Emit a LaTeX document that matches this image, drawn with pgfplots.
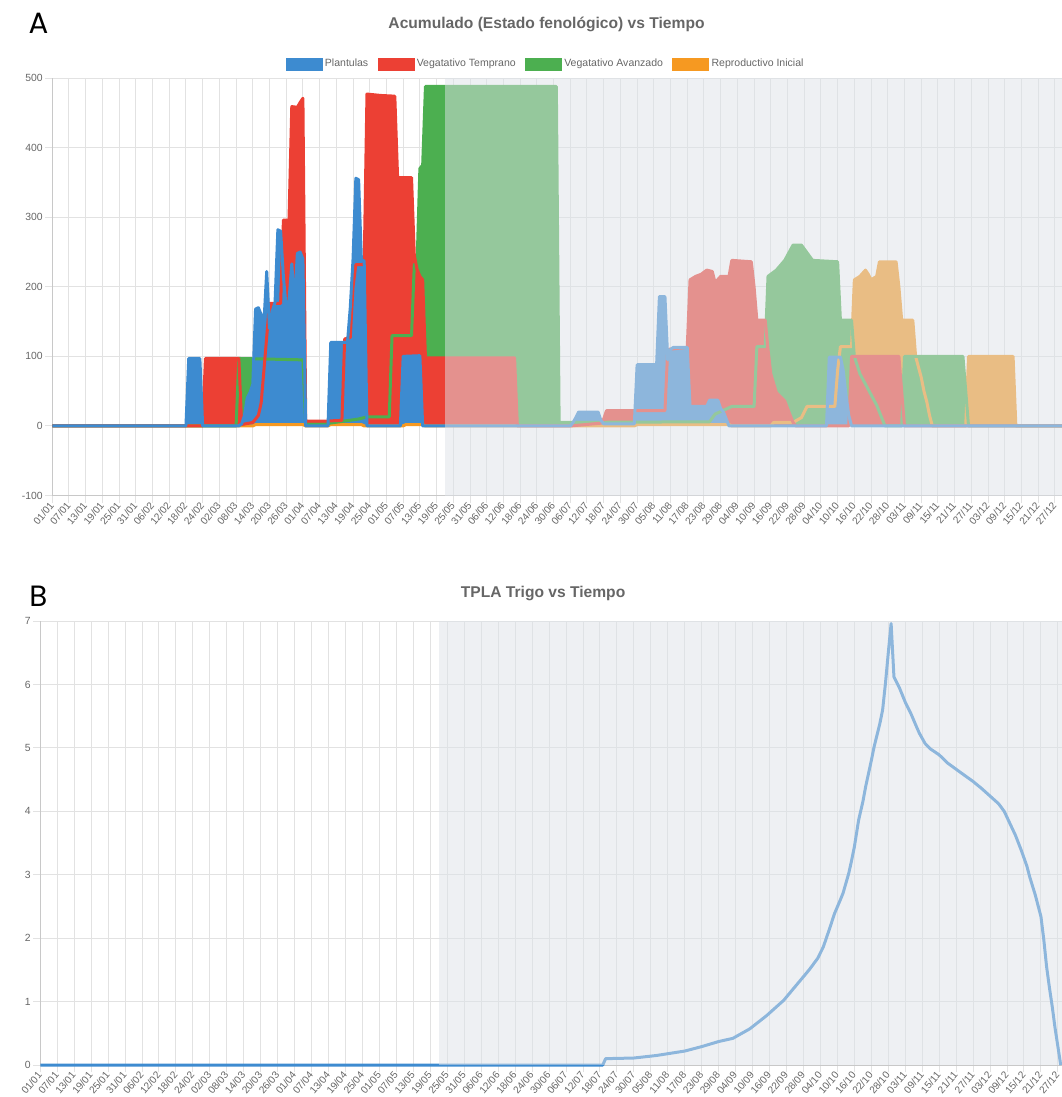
\documentclass[border=0pt]{standalone}
\usepackage{pgfplots}
\pgfplotsset{compat=1.18}
\usepackage{pgfplotstable}
\usepackage{fontspec}
\setmainfont{Liberation Sans}
\newfontfamily\panelfont{Poppins}

\definecolor{cblue}{RGB}{61,139,208}
\definecolor{cred}{RGB}{236,64,52}
\definecolor{cgreen}{RGB}{76,175,80}
\definecolor{corange}{RGB}{246,153,33}
\definecolor{ovl}{RGB}{222,226,232}
\definecolor{gridc}{RGB}{226,226,226}
\definecolor{axisc}{RGB}{200,200,200}
\definecolor{tickc}{RGB}{102,102,102}

\pgfplotstableread{
d v
0 0
48 0
49 97
53 97
54 0
67 0
68 3
69 15
70 40
71 48
72 60
73 168
74 170
75 160
76 148
77 222
78 140
79 165
80 178
81 282
82 280
83 214
84 170
85 180
86 233
87 175
88 248
89 250
90 240
91 0
99 0
100 120
106 120
107 170
108 240
109 356
110 354
111 239
112 237
113 0
125 0
126 100
132 101
133 0
186 0
187 5
188 12
189 20
196 20
197 8
198 3
209 3
210 88
217 88
218 186
220 186
221 95
222 110
223 113
228 113
229 28
235 28
236 37
239 37
240 25
241 20
243 0
278 0
279 99
283 99
284 80
285 45
286 15
287 0
364 0
}\plantulas

\pgfplotstableread{
d v
0 0
54 0
55 97
67 97
68 2
72 5
74 15
75 33
76 80
77 128
78 176
82 176
83 296
85 296
86 459
88 458
89 465
90 471
91 7
98 7
104 8
105 125
107 127
108 200
109 232
112 232
113 477
118 475
123 474
124 357
129 357
130 245
131 225
132 215
133 210
134 98
166 98
167 0
186 0
197 4
198 10
199 22
220 22
221 110
228 113
229 210
231 215
233 218
235 224
237 222
238 206
240 215
243 215
244 238
251 236
252 200
253 152
256 152
257 110
258 75
260 48
263 36
265 15
266 5
267 0
286 0
287 100
304 100
306 0
364 0
}\temprano

\pgfplotstableread{
d v
0 0
66 0
67 97
90 95
91 3
98 3
110 10
113 13
121 13
122 130
129 130
130 232
131 235
132 370
133 375
134 488
181 488
182 5
236 6
238 17
244 28
252 28
253 114
256 114
257 215
260 224
263 238
266 260
269 260
271 249
273 238
282 236
283 152
287 152
288 100
290 75
292 60
294 45
296 30
298 10
299 0
305 0
306 100
327 100
329 0
364 0
}\avanzado

\pgfplotstableread{
d v
0 0
72 0
73 2
90 2
91 0
99 0
100 2
111 2
112 0
126 0
127 2
133 2
134 0
209 0
210 2
243 2
244 0
258 0
259 5
266 5
269 12
271 28
281 28
282 80
283 114
287 114
288 210
290 215
292 224
293 218
294 210
296 215
297 236
303 236
304 200
305 152
309 152
310 100
311 85
312 70
313 50
314 35
315 15
316 0
328 0
329 100
345 100
346 0
364 0
}\reproductivo

\pgfplotstableread{
d v
0 0
199 0
200 0.10
210 0.11
218 0.15
228 0.22
234 0.29
240 0.37
245 0.42
249 0.52
251 0.57
253 0.64
255 0.71
257 0.78
260 0.90
263 1.02
266 1.18
269 1.34
272 1.50
275 1.68
277 1.86
279 2.12
281 2.39
283 2.60
284 2.71
286 3.02
287 3.22
288 3.44
289.5 3.86
291 4.15
292 4.39
294 4.80
295 5.02
297 5.38
298 5.60
299 6.02
300 6.50
301 6.96
302 6.12
304 5.94
306 5.72
308 5.54
310 5.33
311 5.23
313 5.07
315 4.98
318 4.89
321 4.76
325 4.63
330 4.47
333 4.36
335 4.28
337 4.20
339 4.12
341 4.00
343 3.81
345 3.62
347 3.39
349 3.14
350 2.97
352 2.68
354 2.34
355 1.98
356 1.55
357 1.22
358 0.92
359 0.58
360 0.29
361 0
}\tpla

\pgfplotsset{
  chartstyle/.style={
    scale only axis, anchor=south west,
    xmin=0, xmax=364,
    xtick={0,6,...,360},
    xticklabels={01/01,07/01,13/01,19/01,25/01,31/01,06/02,12/02,18/02,24/02,02/03,08/03,14/03,20/03,26/03,01/04,07/04,13/04,19/04,25/04,01/05,07/05,13/05,19/05,25/05,31/05,06/06,12/06,18/06,24/06,30/06,06/07,12/07,18/07,24/07,30/07,05/08,11/08,17/08,23/08,29/08,04/09,10/09,16/09,22/09,28/09,04/10,10/10,16/10,22/10,28/10,03/11,09/11,15/11,21/11,27/11,03/12,09/12,15/12,21/12,27/12},
    grid=major, major grid style={gridc, line width=0.75pt},
    axis x line*=bottom, axis y line*=left,
    axis line style={axisc, line width=0.75pt, -},
    tick style={gridc, line width=0.75pt},
    tick align=outside, major tick length=5.5pt,
    /pgf/number format/assume math mode=true,
    yticklabel style={font=\fontsize{7.8}{9}\selectfont, text=tickc, inner xsep=1.5pt},
    xticklabel style={rotate=50, anchor=east, font=\fontsize{7.6}{9}\selectfont, text=tickc, inner sep=0.5pt},
    clip=false,
  },
  fillst/.style={draw=none, fill=#1, forget plot},
  linest/.style={#1, line width=2.25pt, line join=round, forget plot},
}

\begin{document}
\begin{tikzpicture}
% ---------- Panel A ----------
\node[font=\panelfont\fontsize{22}{26}\selectfont] at (28.8pt,805pt) {A};
\node[font=\fontsize{11.7}{14}\selectfont\bfseries, text=tickc] at (409.9pt,804.5pt) {Acumulado (Estado fenológico) vs Tiempo};
\begin{axis}[chartstyle,
  at={(39.2pt,451.1pt)}, width=760.3pt, height=313.1pt,
  ymin=-100, ymax=500, ytick={-100,0,...,500},
  legend columns=4,
  legend style={at={(0.487,1.0335)}, anchor=center, draw=none, fill=none,
    font=\fontsize{7.9}{9}\selectfont, text=tickc,
    /tikz/every even column/.append style={column sep=5pt}},
  legend image code/.code={\fill[#1] (0pt,-4.5pt) rectangle (27pt,4.5pt);},
]
\addlegendimage{cblue}\addlegendentry{Plantulas}
\addlegendimage{cred}\addlegendentry{Vegatativo Temprano}
\addlegendimage{cgreen}\addlegendentry{Vegatativo Avanzado}
\addlegendimage{corange}\addlegendentry{Reproductivo Inicial}
\addplot[fillst=corange] table[x=d,y=v] {\reproductivo} \closedcycle;
\addplot[fillst=cgreen] table[x=d,y=v] {\avanzado} \closedcycle;
\addplot[fillst=cred] table[x=d,y=v] {\temprano} \closedcycle;
\addplot[fillst=cblue] table[x=d,y=v] {\plantulas} \closedcycle;
\addplot[linest=corange] table[x=d,y=v] {\reproductivo};
\addplot[linest=cgreen] table[x=d,y=v] {\avanzado};
\addplot[linest=cred] table[x=d,y=v] {\temprano};
\addplot[linest=cblue] table[x=d,y=v] {\plantulas};
\addplot[draw=none, fill=ovl, fill opacity=0.5, forget plot] coordinates {(141,-100) (141,500) (364,500) (364,-100)} -- cycle;
\end{axis}
% ---------- Panel B ----------
\node[font=\panelfont\fontsize{22}{26}\selectfont] at (28.8pt,375.5pt) {B};
\node[font=\fontsize{11.7}{14}\selectfont\bfseries, text=tickc] at (407.3pt,377.3pt) {TPLA Trigo vs Tiempo};
\begin{axis}[chartstyle,
  at={(30.2pt,24pt)}, width=771.7pt, height=333pt,
  ymin=0, ymax=7, ytick={0,1,...,7},
]
\addplot[linest=cblue] table[x=d,y=v] {\tpla};
\addplot[draw=none, fill=ovl, fill opacity=0.5, forget plot] coordinates {(141,0) (141,7) (364,7) (364,0)} -- cycle;
\end{axis}
\pgfresetboundingbox
\path[use as bounding box] (0pt,0pt) rectangle (796.5pt,822.75pt);
\end{tikzpicture}
\end{document}
